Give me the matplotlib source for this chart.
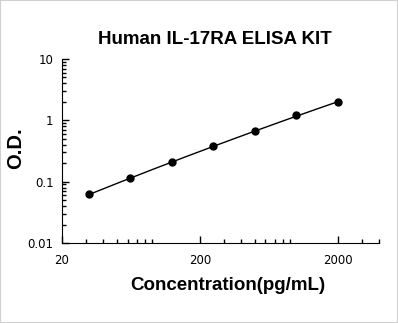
import numpy as np
import matplotlib.pyplot as plt
from matplotlib.patches import Rectangle

# standard curve readings
conc = [31.25, 62.5, 125, 250, 500, 1000, 2000]
od = [0.062, 0.113, 0.206, 0.377, 0.66, 1.2, 1.97]

plt.rcParams['font.family'] = ['Liberation Sans', 'DejaVu Sans']

fig = plt.figure(figsize=(3.98, 3.23), dpi=100)
ax = fig.add_axes([62 / 398, 1 - 243 / 323, (379 - 62) / 398, (243 - 59) / 323])

# quadratic fit in log-log space for the curve
lx = np.log10(conc)
ly = np.log10(od)
coef = np.polyfit(lx, ly, 2)
xs = np.linspace(lx[0], lx[-1], 200)
ax.plot(10 ** xs, 10 ** np.polyval(coef, xs), color='black', lw=1)
ax.plot(conc, od, 'o', color='black', ms=5)

ax.set_xscale('log')
ax.set_yscale('log')
ax.set_xlim(20, 4000)
ax.set_ylim(0.01, 10)
ax.set_xticks([20, 200, 2000])
ax.set_xticklabels(['20', '200', '2000'])
ax.set_yticks([0.01, 0.1, 1, 10])
ax.set_yticklabels(['0.01', '0.1', '1', '10'])

for s in ['top', 'right']:
    ax.spines[s].set_visible(False)
ax.tick_params(which='both', direction='in', width=1)
ax.tick_params(which='major', length=5)
ax.tick_params(which='minor', length=3)
ax.tick_params(axis='x', pad=8)
ax.tick_params(axis='y', pad=6)
for lab in ax.get_xticklabels() + ax.get_yticklabels():
    lab.set_fontfamily('DejaVu Sans')
    lab.set_fontsize(8.5)

ax.set_xlabel('Concentration(pg/mL)', fontsize=13.5, fontweight='bold')
ax.xaxis.set_label_coords((228 - 62) / (379 - 62), -(286 - 243) / (243 - 59))
ax.xaxis.label.set_va('center')
ax.set_ylabel('O.D.', fontsize=14.5, fontweight='bold')
ax.yaxis.set_label_coords(-(62 - 16) / (379 - 62), 0.5 - (148 - 151) / (243 - 59))
ax.yaxis.label.set_va('center')
fig.text(215 / 398, 1 - 40 / 323, 'Human IL-17RA ELISA KIT', ha='center', va='center',
         fontsize=13.5, fontweight='bold')

fig.patches.append(Rectangle((0, 0), 1, 1, transform=fig.transFigure, fill=False,
                             edgecolor='#d0d0d0', lw=1.5))

fig.savefig('out.png', dpi=100)
